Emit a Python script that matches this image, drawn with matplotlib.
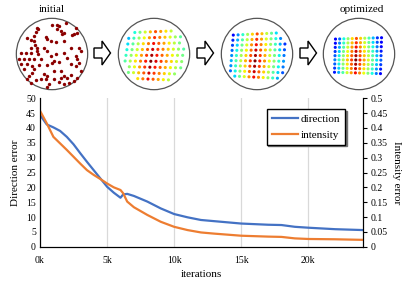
import matplotlib.pyplot as plt
import numpy as np
from matplotlib.patches import Circle, Polygon

plt.rcParams['font.family'] = ['Liberation Serif', 'DejaVu Serif']

# ---- line chart data (x in thousands of iterations) ----
iters_k = [0, 0.5, 1, 1.5, 2, 2.5, 3, 3.5, 4, 4.5, 5, 5.5, 6, 6.2, 6.5, 7, 8, 9,
           10, 11, 12, 13, 15, 17, 18, 19, 20, 22, 24.1]
direction = [44.4, 41.2, 40.2, 39.0, 37.0, 34.5, 31.5, 28.6, 25.8, 23.0, 20.2,
             18.2, 16.5, 17.6, 17.8, 17.1, 15.2, 12.9, 11.0, 9.9, 9.0, 8.6, 7.8,
             7.4, 7.3, 6.7, 6.4, 5.9, 5.6]
intensity = [0.458, 0.416, 0.370, 0.348, 0.326, 0.303, 0.280, 0.258, 0.242,
             0.228, 0.213, 0.200, 0.191, 0.180, 0.152, 0.133, 0.107, 0.084,
             0.067, 0.056, 0.048, 0.044, 0.037, 0.034, 0.033, 0.028, 0.026,
             0.025, 0.023]
xticks_k = [0, 5, 10, 15, 20]
xtick_labels = ["0k", "5k", "10k", "15k", "20k"]

# ---- inset point clouds (units: 0..228 box, circle centre 114, r 107) ----
init_x = [68, 72, 66, 115, 128, 155, 130, 140, 150, 145, 185, 180, 175, 190, 60,
          40, 52, 60, 95, 98, 110, 125, 150, 50, 68, 70, 22, 35, 52, 72, 90, 100,
          125, 150, 170, 195, 200, 185, 160, 190, 195, 30, 45, 60, 80, 110, 115,
          120, 135, 20, 40, 55, 75, 100, 170, 185, 60, 55, 45, 90, 100, 95, 80, 65,
          40, 50, 105, 100, 120, 140, 150, 160, 170, 180, 165, 150, 135, 200, 190,
          30, 120, 140, 14, 135, 62]
init_y = [35, 40, 48, 28, 28, 22, 40, 45, 50, 55, 35, 55, 58, 50, 60, 65, 72, 75,
          62, 70, 75, 78, 75, 95, 95, 105, 110, 112, 110, 115, 95, 105, 115, 110,
          95, 95, 105, 120, 125, 130, 140, 130, 128, 130, 130, 120, 140, 135, 138,
          145, 145, 150, 148, 148, 145, 150, 160, 170, 180, 175, 180, 190, 190,
          192, 188, 200, 205, 212, 190, 185, 180, 185, 178, 195, 200, 205, 198,
          165, 185, 160, 165, 165, 130, 30, 88]

# grid panels: column / row counts, extents, shear and bulge, colour centre
grid_cols = 12
grid_rows = 9
centre_col = 5
centre_row = 5
panel_x0 = [30, 38, 42]
panel_x1 = [200, 195, 180]
panel_y0 = [48, 55, 68]
panel_y1 = [188, 182, 170]
panel_shear = [-0.16, -0.08, -0.03]
panel_bulge = [0.10, 0.12, 0.08]
panel_fall_left = [0.11, 0.14, 0.15]
panel_fall_right = [0.08, 0.12, 0.13]


def grid_points(k):
    cols, rows = np.meshgrid(np.arange(grid_cols), np.arange(grid_rows))
    u = cols / (grid_cols - 1)
    v = rows / (grid_rows - 1)
    x = panel_x0[k] + u * (panel_x1[k] - panel_x0[k])
    y = panel_y0[k] + v * (panel_y1[k] - panel_y0[k])
    cy = (panel_y0[k] + panel_y1[k]) / 2
    y = cy + (y - cy) * (1 + panel_bulge[k] * (u - 0.3))
    x = x + panel_shear[k] * (y - cy)
    dc = cols - centre_col
    fall = np.where(dc < 0, panel_fall_left[k], panel_fall_right[k])
    val = 1 - fall * np.abs(dc) - 0.035 * np.abs(rows - centre_row)
    val = np.clip(val, 0.12, 1.0)
    inside = np.hypot(x - 114, y - 114) < 96
    return x[inside], y[inside], val[inside]


fig = plt.figure(figsize=(4.15, 2.82), dpi=100)
W, H = 415, 282

# ---- main chart ----
ax = fig.add_axes([40 / W, 1 - 246.7 / H, (363.3 - 40) / W, (246.7 - 98.3) / H])
blue = '#4472C4'
orange = '#ED7D31'
l1, = ax.plot(iters_k, direction, color=blue, lw=1.6, label='direction')
ax.set_xlim(0, 24.1)
ax.set_ylim(0, 50)
ax.set_yticks(range(0, 51, 5))
ax.set_xticks(xticks_k)
ax.set_xticklabels(xtick_labels)
ax.grid(axis='x', color='#d9d9d9', lw=0.9)
ax.set_axisbelow(True)
ax.spines['top'].set_visible(False)
ax.tick_params(axis='y', length=0, labelsize=7, pad=3)
ax.tick_params(axis='x', length=0, labelsize=7, pad=7)
ax.set_ylabel('Direction error', fontsize=8, labelpad=4)
ax.set_xlabel('iterations', fontsize=8, labelpad=3)

ax2 = ax.twinx()
l2, = ax2.plot(iters_k, intensity, color=orange, lw=1.6, label='intensity')
ax2.set_ylim(0, 0.5)
ax2.set_yticks(np.arange(0, 0.51, 0.05))
ax2.set_yticklabels(['0', '0.05', '0.1', '0.15', '0.2', '0.25', '0.3', '0.35',
                     '0.4', '0.45', '0.5'])
ax2.spines['top'].set_visible(False)
ax2.tick_params(axis='y', length=3, labelsize=7, pad=2)
ax2.set_ylabel('Intensity error', fontsize=8, rotation=270, labelpad=10)
ax2.legend(handles=[l1, l2], loc='upper right', bbox_to_anchor=(0.944, 0.928),
           borderaxespad=0, fontsize=8, frameon=True, fancybox=False,
           edgecolor='black', framealpha=1, handlelength=2.4,
           handletextpad=0.2, borderpad=0.45, labelspacing=0.55,
           shadow={'color': '0.45', 'alpha': 1, 'ox': 1.2, 'oy': -1.2})

# ---- top insets ----
origins = [14, 116, 219, 321]
for i, x0 in enumerate(origins):
    a = fig.add_axes([x0 / W, 1 - (16 + 76) / H, 76 / W, 76 / H])
    a.set_xlim(0, 228)
    a.set_ylim(228, 0)
    a.set_aspect('equal')
    a.axis('off')
    a.add_patch(Circle((114, 114), 107, fill=False, ec='#555555', lw=0.9))
    if i == 0:
        a.scatter(init_x, init_y, s=6, color='#8B0000', lw=0)
    else:
        gx, gy, gv = grid_points(i - 1)
        a.scatter(gx, gy, s=5, c=gv, cmap='jet', vmin=0, vmax=1, lw=0)

over = fig.add_axes([0, 0, 1, 1])
over.set_xlim(0, W)
over.set_ylim(H, 0)
over.axis('off')
arrow_shape = [(-8, -5), (0, -5), (0, -12), (8.5, 0), (0, 12), (0, 5), (-8, 5)]
for cx in [102, 205, 308]:
    over.add_patch(Polygon([(cx + dx, 53 + dy) for dx, dy in arrow_shape],
                           closed=True, fc='white', ec='black', lw=1.0))
over.text(52, 10, 'initial', ha='center', va='center', fontsize=8)
over.text(362, 10, 'optimized', ha='center', va='center', fontsize=8)

fig.savefig('out.png', dpi=100)
